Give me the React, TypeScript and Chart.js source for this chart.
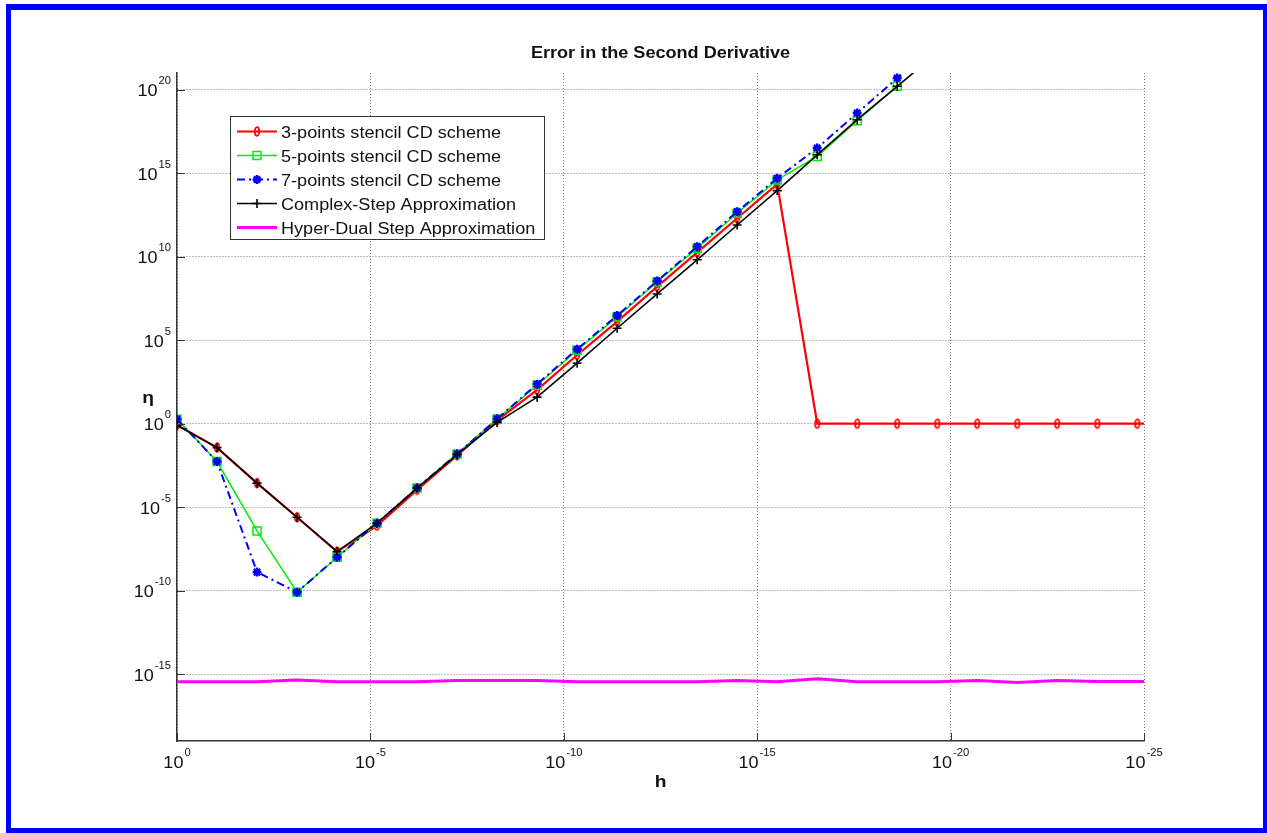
import React, { useEffect, useRef } from 'react';
import { Chart, registerables } from 'chart.js';

Chart.register(...registerables);

// step sizes h (x axis, decreasing); the last entry is the right end of the axis
const hValues = [
  1, 9.24e-2, 8.53e-3, 7.88e-4, 7.28e-5, 6.72e-6, 6.21e-7, 5.74e-8, 5.3e-9, 4.9e-10,
  4.52e-11, 4.18e-12, 3.86e-13, 3.56e-14, 3.29e-15, 3.04e-16, 2.81e-17, 2.6e-18, 2.4e-19,
  2.21e-20, 2.05e-21, 1.89e-22, 1.75e-23, 1.61e-24, 1.49e-25, 1e-25,
];

// relative error eta for each scheme
const threePointCD = [
  0.85, 3.7e-2, 2.75e-4, 2.5e-6, 2.2e-8, 7.9e-7, 1.1e-4, 1.26e-2, 1.6, 1.05e2, 1.3e4, 1.3e6,
  1.6e8, 1.8e10, 2.0e12, 2.2e14, 1, 1, 1, 1, 1, 1, 1, 1, 1, 1,
];
const fivePointCD = [
  1.86, 5.4e-3, 3.8e-7, 8.1e-11, 1.0e-8, 1.1e-6, 1.4e-4, 1.55e-2, 1.9, 2.0e2, 2.5e4, 2.5e6,
  3.2e8, 3.2e10, 4.0e12, 4.0e14, 1.0e16, 1.4e18, 1.6e20,
];
const sevenPointCD = [
  1.86, 5.4e-3, 1.3e-9, 8.1e-11, 1.0e-8, 1.1e-6, 1.4e-4, 1.55e-2, 1.95, 2.34e2, 2.9e4, 3.0e6,
  3.5e8, 4.0e10, 5.0e12, 5.0e14, 3.2e16, 4.0e18, 5.0e20, 5.0e22,
];
const complexStep = [
  0.8, 3.7e-2, 2.75e-4, 2.5e-6, 2.2e-8, 1.1e-6, 1.4e-4, 1.4e-2, 1.2, 39, 4.2e3, 5.2e5, 5.9e7,
  6.5e9, 7.9e11, 9.1e13, 1.26e16, 1.6e18, 1.6e20, 1.6e22,
];
const hyperDual = [
  3.55e-16, 3.55e-16, 3.55e-16, 4.47e-16, 3.55e-16, 3.55e-16, 3.55e-16, 4.17e-16, 4.17e-16,
  4.17e-16, 3.55e-16, 3.55e-16, 3.55e-16, 3.55e-16, 4.17e-16, 3.55e-16, 5.25e-16, 3.55e-16,
  3.55e-16, 3.55e-16, 4.17e-16, 3.2e-16, 4.17e-16, 3.7e-16, 3.7e-16, 3.7e-16,
];

const seriesLabels = [
  '3-points stencil CD scheme',
  '5-points stencil CD scheme',
  '7-points stencil CD scheme',
  'Complex-Step Approximation',
  'Hyper-Dual Step Approximation',
];

const xTickValues = [1, 1e-5, 1e-10, 1e-15, 1e-20, 1e-25];
const xTickExps = ['0', '-5', '-10', '-15', '-20', '-25'];
const yTickValues = [1e-15, 1e-10, 1e-5, 1, 1e5, 1e10, 1e15, 1e20];
const yTickExps = ['-15', '-10', '-5', '0', '5', '10', '15', '20'];

const titleText = 'Error in the Second Derivative';
const xLabel = 'h';
const yLabel = 'η';

const FONT = 'Arial, "Liberation Sans", Helvetica, sans-serif';

function measure(ctx: CanvasRenderingContext2D, s: string, size: number, bold: boolean, sx: number) {
  ctx.save();
  ctx.font = `${bold ? 'bold ' : ''}${size}px ${FONT}`;
  const w = ctx.measureText(s).width * sx;
  ctx.restore();
  return w;
}

function drawText(
  ctx: CanvasRenderingContext2D,
  s: string,
  x: number,
  y: number,
  size: number,
  bold: boolean,
  align: 'left' | 'center' | 'right',
  sx = 1.13,
  color = '#111',
) {
  const w = measure(ctx, s, size, bold, sx);
  let x0 = x;
  if (align === 'center') x0 = x - w / 2;
  else if (align === 'right') x0 = x - w;
  ctx.save();
  ctx.font = `${bold ? 'bold ' : ''}${size}px ${FONT}`;
  ctx.fillStyle = color;
  ctx.textAlign = 'left';
  ctx.textBaseline = 'alphabetic';
  ctx.translate(x0, y);
  ctx.scale(sx, 1);
  ctx.fillText(s, 0, 0);
  ctx.restore();
  return w;
}

function drawPow(ctx: CanvasRenderingContext2D, exp: string, x: number, baseY: number, align: 'right' | 'center') {
  const wb = measure(ctx, '10', 17, false, 1.06);
  const we = measure(ctx, exp, 11, false, 1.02);
  const total = wb + 1 + we;
  const x0 = align === 'right' ? x - total : x - total / 2;
  drawText(ctx, '10', x0, baseY, 17, false, 'left', 1.06);
  drawText(ctx, exp, x0 + wb + 1, baseY - 12, 11, false, 'left', 1.02);
}

function makeEllipse(color: string) {
  const c = document.createElement('canvas');
  c.width = 8;
  c.height = 13;
  const g = c.getContext('2d')!;
  g.strokeStyle = color;
  g.lineWidth = 1.8;
  g.beginPath();
  g.ellipse(4, 6.5, 2.1, 4.3, 0, 0, Math.PI * 2);
  g.stroke();
  return c;
}

export default function App() {
  const ref = useRef<HTMLCanvasElement | null>(null);

  useEffect(() => {
    const canvas = ref.current;
    if (!canvas) return;
    const ellipse = makeEllipse('#ff0000');

    const toPts = (arr: number[]) => arr.map((v, i) => ({ x: hValues[i], y: v }));
    // markers only at the computed step sizes, not at the axis end point
    const markerRadii = (arr: number[], r: number) =>
      arr.map((_, i) => (hValues[i] === xTickValues[xTickValues.length - 1] ? 0 : r));

    const styles = [
      { color: '#ff0000', width: 2.2, dash: [] as number[], marker: 'ellipse' },
      { color: '#00ee00', width: 1.5, dash: [] as number[], marker: 'rect' },
      { color: '#0000ff', width: 2, dash: [8, 4, 2, 4], marker: 'star' },
      { color: '#000000', width: 1.6, dash: [] as number[], marker: 'cross' },
      { color: '#ff00ff', width: 3, dash: [] as number[], marker: 'none' },
    ];

    const drawMarker = (ctx: CanvasRenderingContext2D, kind: string, x: number, y: number, color: string) => {
      ctx.save();
      ctx.strokeStyle = color;
      if (kind === 'ellipse') {
        ctx.drawImage(ellipse, x - ellipse.width / 2, y - ellipse.height / 2);
      } else if (kind === 'rect') {
        ctx.lineWidth = 1.5;
        ctx.strokeRect(x - 4, y - 4, 8, 8);
      } else if (kind === 'star') {
        ctx.lineWidth = 2.4;
        ctx.beginPath();
        const r = 4.5;
        ctx.moveTo(x - r, y); ctx.lineTo(x + r, y);
        ctx.moveTo(x, y - r); ctx.lineTo(x, y + r);
        const d = r * Math.SQRT1_2;
        ctx.moveTo(x - d, y - d); ctx.lineTo(x + d, y + d);
        ctx.moveTo(x - d, y + d); ctx.lineTo(x + d, y - d);
        ctx.stroke();
      } else if (kind === 'cross') {
        ctx.lineWidth = 1.6;
        ctx.beginPath();
        ctx.moveTo(x - 4.5, y); ctx.lineTo(x + 4.5, y);
        ctx.moveTo(x, y - 4.5); ctx.lineTo(x, y + 4.5);
        ctx.stroke();
      }
      ctx.restore();
    };

    const decor = {
      id: 'decor',
      afterDraw(chart: any) {
        const ctx: CanvasRenderingContext2D = chart.ctx;
        const { left, right, bottom } = chart.chartArea;
        const xs = chart.scales.x;
        const ys = chart.scales.y;

        // inner tick marks
        ctx.save();
        ctx.strokeStyle = '#333';
        ctx.lineWidth = 1;
        ctx.beginPath();
        yTickValues.forEach((v) => {
          const y = Math.round(ys.getPixelForValue(v)) + 0.5;
          ctx.moveTo(left, y);
          ctx.lineTo(left + 8, y);
        });
        xTickValues.forEach((v) => {
          const x = Math.round(xs.getPixelForValue(v)) + 0.5;
          ctx.moveTo(x, bottom);
          ctx.lineTo(x, bottom - 8);
        });
        ctx.stroke();
        ctx.restore();

        // tick labels
        yTickValues.forEach((v, i) => {
          const y = ys.getPixelForValue(v);
          drawPow(ctx, yTickExps[i], 171, y + 6.5, 'right');
        });
        xTickValues.forEach((v, i) => {
          const x = xs.getPixelForValue(v);
          drawPow(ctx, xTickExps[i], x, 768, 'center');
        });

        // title and axis labels
        drawText(ctx, titleText, (left + right) / 2, 58, 16, true, 'center');
        drawText(ctx, xLabel, (left + right) / 2, 787, 17, true, 'center');
        drawText(ctx, yLabel, 148, 403, 17, true, 'center');

        // legend
        const lx = 230, ly = 116, lw = 314, lh = 123;
        ctx.save();
        ctx.fillStyle = '#ffffff';
        ctx.fillRect(lx, ly, lw, lh);
        ctx.strokeStyle = '#333';
        ctx.lineWidth = 1;
        ctx.strokeRect(lx + 0.5, ly + 0.5, lw, lh);
        ctx.restore();
        seriesLabels.forEach((label, i) => {
          const st = styles[i];
          const cy = 131.5 + i * 24;
          ctx.save();
          ctx.strokeStyle = st.color;
          ctx.lineWidth = st.width;
          ctx.setLineDash(st.dash);
          ctx.beginPath();
          ctx.moveTo(237, cy);
          ctx.lineTo(277, cy);
          ctx.stroke();
          ctx.restore();
          drawMarker(ctx, st.marker, 257, cy, st.color);
          drawText(ctx, label, 281, cy + 6, 16, false, 'left');
        });

        // blue frame
        ctx.save();
        ctx.fillStyle = '#0000ff';
        ctx.fillRect(6, 4, 1261, 6);
        ctx.fillRect(6, 4, 5, 829);
        ctx.fillRect(1263, 4, 4, 829);
        ctx.fillRect(6, 828, 1261, 5);
        ctx.restore();
      },
    };

    const chart = new Chart(canvas, {
      type: 'line',
      data: {
        datasets: [
          {
            label: seriesLabels[0],
            data: toPts(threePointCD),
            borderColor: styles[0].color,
            backgroundColor: styles[0].color,
            borderWidth: styles[0].width,
            pointStyle: ellipse as any,
            pointRadius: markerRadii(threePointCD, 4),
            order: 4,
          },
          {
            label: seriesLabels[1],
            data: toPts(fivePointCD),
            borderColor: styles[1].color,
            backgroundColor: 'rgba(0,0,0,0)',
            borderWidth: styles[1].width,
            pointStyle: 'rect',
            pointRadius: 5.7,
            pointBorderWidth: 1.5,
            pointBackgroundColor: 'rgba(0,0,0,0)',
            order: 3,
          },
          {
            label: seriesLabels[2],
            data: toPts(sevenPointCD),
            borderColor: styles[2].color,
            backgroundColor: styles[2].color,
            borderWidth: styles[2].width,
            borderDash: styles[2].dash,
            pointStyle: 'star',
            pointRadius: 4.5,
            pointBorderWidth: 2.4,
            order: 2,
          },
          {
            label: seriesLabels[3],
            data: toPts(complexStep),
            borderColor: styles[3].color,
            backgroundColor: styles[3].color,
            borderWidth: styles[3].width,
            pointStyle: 'cross',
            pointRadius: 4.5,
            pointBorderWidth: 1.6,
            order: 1,
          },
          {
            label: seriesLabels[4],
            data: toPts(hyperDual),
            borderColor: styles[4].color,
            backgroundColor: styles[4].color,
            borderWidth: styles[4].width,
            pointRadius: 0,
            order: 0,
          },
        ],
      },
      options: {
        responsive: false,
        animation: false,
        devicePixelRatio: 1,
        layout: { padding: { left: 177, right: 123, top: 73, bottom: 92 } },
        elements: { line: { tension: 0 } },
        plugins: {
          legend: { display: false },
          title: { display: false },
          tooltip: { enabled: false },
        },
        events: [],
        scales: {
          x: {
            type: 'logarithmic',
            reverse: true,
            min: 1e-25,
            max: 1,
            afterBuildTicks: (s: any) => {
              s.ticks = xTickValues.map((v) => ({ value: v }));
            },
            ticks: { display: false },
            grid: { drawTicks: false, color: '#7a7a7a', lineWidth: 1 },
            border: { display: true, color: '#333', width: 1.5, dash: [1, 2] },
          },
          y: {
            type: 'logarithmic',
            min: 1e-19,
            max: 1e21,
            afterBuildTicks: (s: any) => {
              s.ticks = yTickValues.map((v) => ({ value: v }));
            },
            ticks: { display: false },
            grid: { drawTicks: false, color: '#7a7a7a', lineWidth: 1 },
            border: { display: true, color: '#333', width: 1.5, dash: [1, 2] },
          },
        },
      },
      plugins: [decor],
    } as any);

    return () => chart.destroy();
  }, []);

  return (
    <div style={{ position: 'absolute', left: 0, top: 0, width: 1267, height: 833, background: '#fff' }}>
      <canvas ref={ref} width={1267} height={833} style={{ display: 'block', width: 1267, height: 833 }} />
    </div>
  );
}
